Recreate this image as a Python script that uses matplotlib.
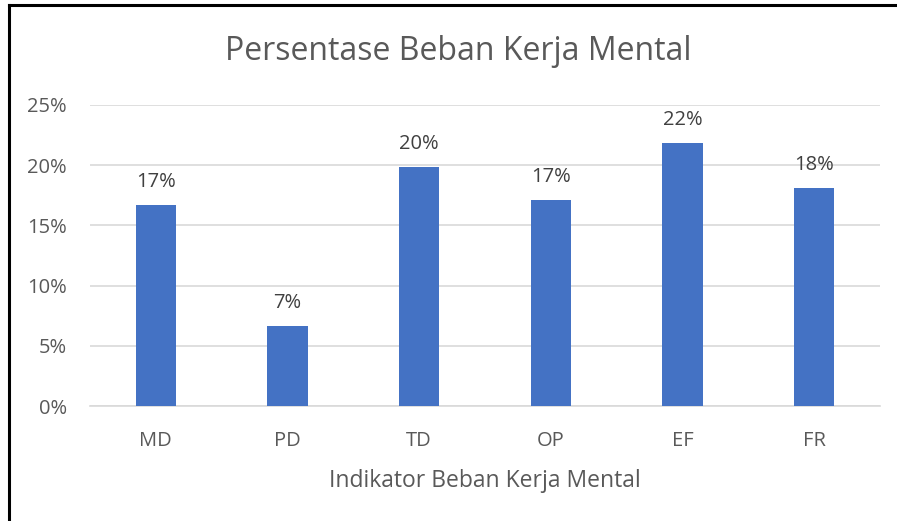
import matplotlib.pyplot as plt
from matplotlib.lines import Line2D
from matplotlib.ticker import FuncFormatter

plt.rcParams['font.family'] = ['Open Sans', 'DejaVu Sans']

# data
categories = ['MD', 'PD', 'TD', 'OP', 'EF', 'FR']
values = [16.7, 6.65, 19.85, 17.1, 21.85, 18.1]
labels = ['17%', '7%', '20%', '17%', '22%', '18%']

grey = '#595959'
blue = '#4472C4'

fig = plt.figure(figsize=(8.97, 5.21), dpi=100)
ax = fig.add_axes([0.1003, 0.2207, 0.8807, 0.5778])

x = range(len(categories))
bars = ax.bar(x, values, width=0.305, color=blue, zorder=3)

for b, lab in zip(bars, labels):
    ax.annotate(lab, (b.get_x() + b.get_width() / 2, b.get_height()),
                xytext=(0, 23), textcoords='offset pixels',
                ha='center', va='center', fontsize=14.5, color='#404040')

ax.set_xlim(-0.5, len(categories) - 0.5)
ax.set_ylim(0, 25)
ax.set_yticks([0, 5, 10, 15, 20, 25])
ax.yaxis.set_major_formatter(FuncFormatter(lambda v, p: f'{int(v)}%'))
ax.set_xticks(list(x))
ax.set_xticklabels(categories)

ax.grid(axis='y', color='#D9D9D9', linewidth=1.2, zorder=0)
for s in ['top', 'right', 'left']:
    ax.spines[s].set_visible(False)
ax.spines['bottom'].set_color('#D9D9D9')
ax.spines['bottom'].set_linewidth(1.2)
ax.tick_params(length=0, labelsize=14.5, colors=grey)
ax.tick_params(axis='y', pad=16.5)
ax.tick_params(axis='x', pad=18)

ax.set_xlabel('Indikator Beban Kerja Mental', fontsize=16.5, color=grey, labelpad=13)
fig.text(0.511, 0.902, 'Persentase Beban Kerja Mental', ha='center', va='center',
         fontsize=23, color=grey)

# frame around chart (only top and left edges visible)
fig.add_artist(Line2D([0.0105, 1.0], [0.9905, 0.9905], color='black', lw=2.2,
                      transform=fig.transFigure))
fig.add_artist(Line2D([0.0105, 0.0105], [0.0, 0.9905], color='black', lw=2.2,
                      transform=fig.transFigure))

fig.savefig('out.png', dpi=100)
